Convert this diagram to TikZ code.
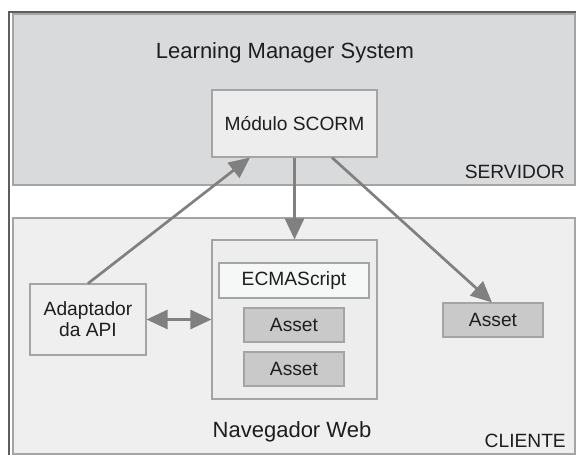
\documentclass[tikz,border=0pt]{standalone}
\usepackage{fontspec}
\setmainfont{Liberation Sans}
\usetikzlibrary{arrows.meta}
\definecolor{txt}{HTML}{1E1E1E}
\definecolor{edge}{HTML}{A4A4A4}
\definecolor{arrowgray}{HTML}{808080}
\definecolor{framegray}{HTML}{5E5E5E}
\definecolor{serverfill}{HTML}{D9DADB}
\definecolor{clientfill}{HTML}{EFEFEF}
\definecolor{modfill}{HTML}{EDEDED}
\definecolor{scriptfill}{HTML}{F6F7F7}
\definecolor{assetfill}{HTML}{C9C9C9}
\tikzset{
  box/.style={draw=edge, line width=1.1pt, text=txt, inner sep=0pt, font=\fontsize{19.2}{21}\selectfont, align=center},
  zone/.style={draw=edge, line width=1.1pt},
  tip/.style={Triangle[length=21pt,width=19pt]},
  flow/.style={draw=arrowgray, line width=2.7pt, -{Triangle[length=21pt,width=19pt]}},
  bothflow/.style={draw=arrowgray, line width=2.7pt, {Triangle[length=21pt,width=19pt]}-{Triangle[length=21pt,width=19pt]}},
  caption/.style={text=txt, inner sep=0pt},
}
\begin{document}
\begin{tikzpicture}[x=1pt, y=-1pt]
\useasboundingbox (0,0) rectangle (576,455);
% outer frame
\draw[framegray, line width=2pt] (9,470) -- (9,11.5) -- (590,11.5);
% server and client zones
\fill[serverfill] (13,14) rectangle (575,185);
\draw[zone] (13,14) rectangle (575,185);
\fill[clientfill] (13,218) rectangle (575,454);
\draw[zone] (13,218) rectangle (575,454);

\node[caption, font=\fontsize{22}{24}\selectfont, anchor=base] (lms) at (285,58) {Learning Manager System};
\node[caption, font=\fontsize{19.2}{21}\selectfont, anchor=base east] (srv) at (565,178) {SERVIDOR};
\node[caption, font=\fontsize{22}{24}\selectfont, anchor=base] (nav-label) at (292,437) {Navegador Web};
\node[caption, font=\fontsize{19.2}{21}\selectfont, anchor=base east] (cli) at (566,447) {CLIENTE};

% components
\node[box, fill=modfill, minimum width=165pt, minimum height=67pt] (scorm) at (294.5,123.5) {Módulo SCORM};
\node[box, fill=modfill, minimum width=165pt, minimum height=159pt] (nav) at (294.5,319.5) {};
\node[box, fill=scriptfill, minimum width=150pt, minimum height=35pt] (ecma) at (294,280.5) {ECMAScript};
\node[box, fill=assetfill, minimum width=100pt, minimum height=34pt] (asset1) at (294,325) {Asset};
\node[box, fill=assetfill, minimum width=100pt, minimum height=34pt] (asset2) at (294,369) {Asset};
\node[box, fill=clientfill, minimum width=116pt, minimum height=71pt] (api) at (88,319.5) {Adaptador\\da API};
\node[box, fill=assetfill, minimum width=100pt, minimum height=34pt] (asset3) at (493,320) {Asset};

% connectors
\draw[flow] (api.north) -- ([xshift=-44.5pt]scorm.south);
\draw[flow] (scorm.south) -- (nav.north);
\draw[flow] ([xshift=37.5pt]scorm.south) -- ([xshift=-1pt]asset3.north);
\draw[bothflow] (api.east) -- (nav.west);
\end{tikzpicture}
\end{document}
